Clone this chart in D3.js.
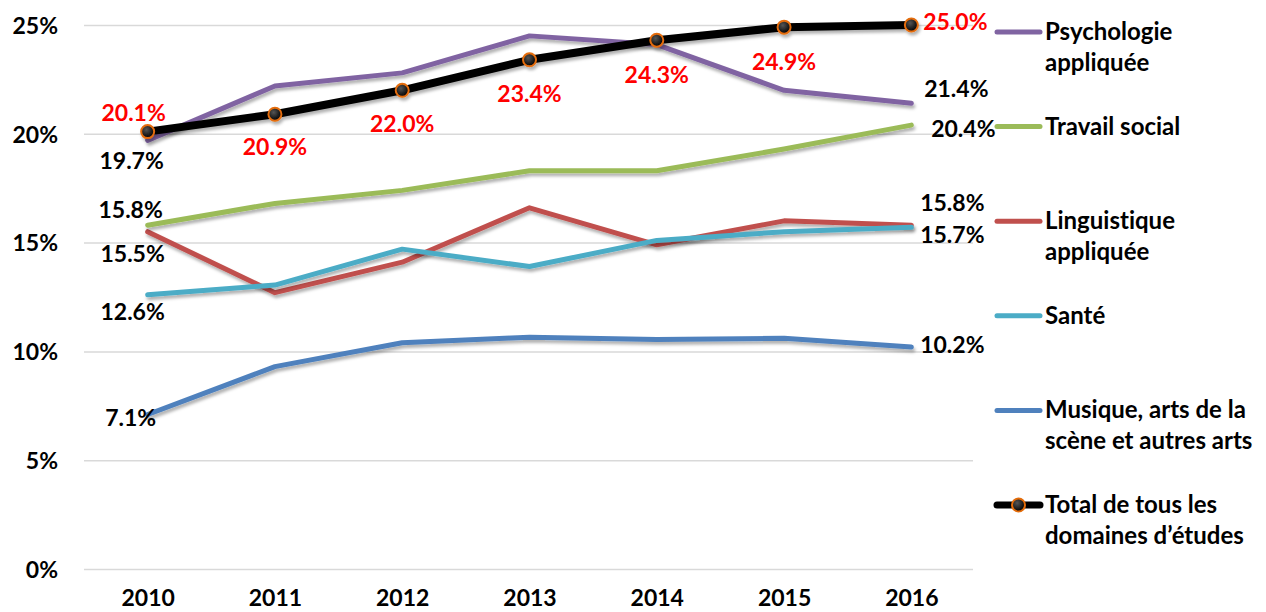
<!DOCTYPE html>
<html>
<head>
<meta charset="utf-8">
<script src="https://cdn.jsdelivr.net/npm/d3@7"></script>
<style>
  html, body { margin: 0; padding: 0; background: #fff; }
  #chart { width: 1266px; height: 612px; }
  text { font-family: Lato, "Open Sans", sans-serif; font-weight: 700; font-variant-ligatures: none; }
</style>
</head>
<body>
<div id="chart"></div>
<script>
const years = ["2010", "2011", "2012", "2013", "2014", "2015", "2016"];
const yTicks = [0, 0.05, 0.1, 0.15, 0.2, 0.25];

const psychologie = [0.197, 0.222, 0.228, 0.245, 0.241, 0.220, 0.214];
const travailSocial = [0.158, 0.168, 0.174, 0.183, 0.183, 0.193, 0.204];
const linguistique = [0.155, 0.127, 0.141, 0.166, 0.149, 0.160, 0.158];
const sante = [0.126, 0.1305, 0.147, 0.139, 0.151, 0.155, 0.157];
const musique = [0.071, 0.093, 0.104, 0.1065, 0.1055, 0.106, 0.102];
const total = [0.201, 0.209, 0.220, 0.234, 0.243, 0.249, 0.250];

class VisLineChart {
  constructor({ el }) {
    this.el = el;
    this.initVis();
  }

  initVis() {
    this.width = 1266;
    this.height = 612;
    this.format = d3.format(".1%");

    // legend order; drawing order is set separately below
    this.series = [
      { key: "psy", name: ["Psychologie", "appliquée"], values: psychologie, color: "#8064A2",
        // label placement: index, dx, dy (baseline)
        labels: [[0, -16, 29], [6, 45, -6]] },
      { key: "trav", name: ["Travail social"], values: travailSocial, color: "#9BBB59",
        labels: [[0, -17, -7], [6, 52, 12]] },
      { key: "ling", name: ["Linguistique", "appliquée"], values: linguistique, color: "#C0504D",
        labels: [[0, -15, 30], [6, 41, -14]] },
      { key: "sante", name: ["Santé"], values: sante, color: "#4BACC6",
        labels: [[0, -15, 25], [6, 41, 16]] },
      { key: "mus", name: ["Musique, arts de la", "scène et autres arts"], values: musique, color: "#4F81BD",
        labels: [[0, -17, 11], [6, 41, 6]] },
      { key: "total", name: ["Total de tous les", "domaines d\u2019études"], values: total, color: "#000000",
        total: true,
        labels: [[0, -14, -11], [1, 0, 41], [2, 0, 42], [3, 0, 42], [4, 0, 43], [5, 0, 43], [6, 44, 5]] },
    ];
    this.drawOrder = ["mus", "ling", "sante", "trav", "psy", "total"];

    this.x = d3.scalePoint().domain(years).range([84, 975]).padding(0.5);
    this.y = d3.scaleLinear().domain([0, 0.25]).range([569, 25]);

    this.svg = d3
      .select(this.el)
      .append("svg")
      .attr("width", this.width)
      .attr("height", this.height);

    const defs = this.svg.append("defs");
    defs
      .append("filter")
      .attr("id", "line-shadow")
      .attr("x", "-5%")
      .attr("y", "-20%")
      .attr("width", "110%")
      .attr("height", "140%")
      .append("feDropShadow")
      .attr("dx", 1.5)
      .attr("dy", 3)
      .attr("stdDeviation", 1.8)
      .attr("flood-color", "#000")
      .attr("flood-opacity", 0.3);
    defs
      .append("radialGradient")
      .attr("id", "marker-fill")
      .attr("cx", "40%")
      .attr("cy", "35%")
      .attr("r", "65%")
      .selectAll("stop")
      .data(["#555", "#000"])
      .join("stop")
      .attr("stop-color", (d) => d)
      .attr("offset", (d, i) => (i ? "100%" : "0%"));

    this.renderAxes();
    this.renderLines();
    this.renderLabels();
    this.renderLegend();
  }

  renderAxes() {
    const [x0, x1] = this.x.range();
    const gY = this.svg
      .append("g")
      .attr("class", "axis y-axis")
      .call(d3.axisLeft(this.y).tickValues(yTicks).tickFormat(d3.format(".0%")).tickSize(0))
      .attr("transform", `translate(${x0},0)`);
    gY.select(".domain").remove();
    gY.selectAll(".tick")
      .call((g) =>
        g
          .append("line")
          .attr("x1", 0)
          .attr("x2", x1 - x0 - 2)
          .attr("stroke", "#D9D9D9")
          .attr("stroke-width", 1.5)
      )
      .call((g) =>
        g
          .select("text")
          .attr("x", -26)
          .attr("dy", "0.36em")
          .attr("fill", "#000")
          .style("font-size", "23px")
      );

    const gX = this.svg
      .append("g")
      .attr("class", "axis x-axis")
      .attr("transform", "translate(0,569)")
      .call(d3.axisBottom(this.x).tickSize(0));
    gX.select(".domain").remove();
    gX.selectAll(".tick text")
      .attr("y", 37)
      .attr("dy", 0)
      .attr("fill", "#000")
      .style("font-size", "23px");
  }

  renderLines() {
    const line = d3
      .line()
      .x((d, i) => this.x(years[i]))
      .y((d) => this.y(d));

    const ordered = this.drawOrder.map((k) => this.series.find((s) => s.key === k));
    const g = this.svg.append("g").attr("class", "lines");

    g.selectAll(".series")
      .data(ordered)
      .join("g")
      .attr("class", "series")
      .attr("filter", "url(#line-shadow)")
      .call((gs) =>
        gs
          .append("path")
          .attr("fill", "none")
          .attr("stroke", (d) => d.color)
          .attr("stroke-width", (d) => (d.total ? 8 : 5))
          .attr("stroke-linejoin", "round")
          .attr("stroke-linecap", "round")
          .attr("d", (d) => line(d.values))
      )
      .filter((d) => d.total)
      .selectAll("circle")
      .data((d) => d.values)
      .join("circle")
      .attr("cx", (d, i) => this.x(years[i]))
      .attr("cy", (d) => this.y(d))
      .attr("r", 6.5)
      .attr("fill", "url(#marker-fill)")
      .attr("stroke", "#E46C0A")
      .attr("stroke-width", 2);
  }

  renderLabels() {
    const items = this.series.flatMap((s) =>
      s.labels.map(([i, dx, dy]) => ({
        x: this.x(years[i]) + dx,
        y: this.y(s.values[i]) + dy,
        text: this.format(s.values[i]),
        color: s.total ? "#FF0000" : "#000",
      }))
    );
    this.svg
      .append("g")
      .attr("class", "labels")
      .selectAll("text")
      .data(items)
      .join("text")
      .attr("x", (d) => d.x)
      .attr("y", (d) => d.y)
      .attr("text-anchor", "middle")
      .attr("fill", (d) => d.color)
      .style("font-size", "23px")
      .text((d) => d.text);
  }

  renderLegend() {
    const top = 32;
    const step = 94.6;
    const item = this.svg
      .append("g")
      .attr("class", "legend")
      .selectAll("g")
      .data(this.series)
      .join("g")
      .attr("transform", (d, i) => `translate(995,${top + i * step})`);

    item
      .append("line")
      .attr("x1", 2)
      .attr("x2", 45)
      .attr("stroke", (d) => d.color)
      .attr("stroke-width", (d) => (d.total ? 7 : 5))
      .attr("stroke-linecap", "round");

    item
      .filter((d) => d.total)
      .append("circle")
      .attr("cx", 23.5)
      .attr("r", 6.5)
      .attr("fill", "url(#marker-fill)")
      .attr("stroke", "#E46C0A")
      .attr("stroke-width", 2);

    item
      .append("text")
      .attr("x", 50)
      .attr("y", 8)
      .attr("fill", "#000")
      .style("font-size", "24px")
      .selectAll("tspan")
      .data((d) => d.name)
      .join("tspan")
      .attr("x", 50)
      .attr("dy", (d, i) => (i ? 31 : 0))
      .text((d) => d);
  }
}

new VisLineChart({ el: document.getElementById("chart") });
</script>
</body>
</html>
